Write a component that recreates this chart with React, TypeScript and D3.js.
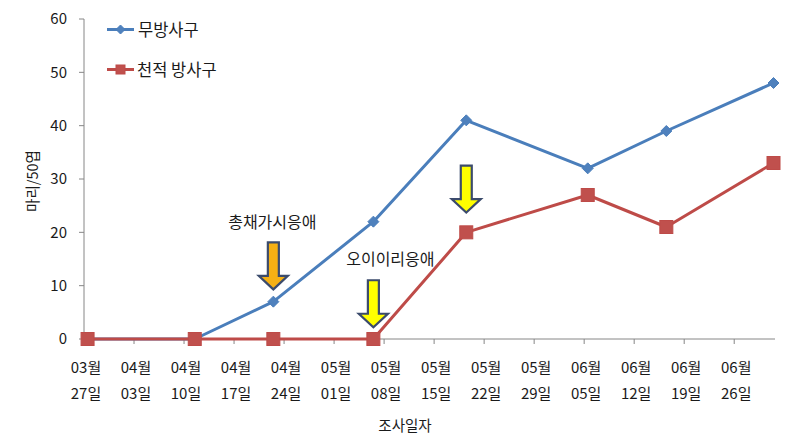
import React, { useEffect } from "react";
import * as d3 from "d3";

const surveyDates = ["2012-03-27", "2012-04-11", "2012-04-22", "2012-05-06", "2012-05-19", "2012-06-05", "2012-06-16", "2012-07-01"];
const seriesNames = ["무방사구", "천적 방사구"];
const noReleaseValues = [0, 0, 7, 22, 41, 32, 39, 48];
const releaseValues = [0, 0, 0, 0, 20, 27, 21, 33];
const tickDates = ["2012-03-27", "2012-04-03", "2012-04-10", "2012-04-17", "2012-04-24", "2012-05-01", "2012-05-08", "2012-05-15", "2012-05-22", "2012-05-29", "2012-06-05", "2012-06-12", "2012-06-19", "2012-06-26"];
const yTicks = [0, 10, 20, 30, 40, 50, 60];
const yTitle = "마리/50엽";
const xTitle = "조사일자";
const arrowDates = ["2012-04-22", "2012-05-06", "2012-05-19"];
const arrowValues = [9.3, 2.2, 23.7];
const arrowColors = ["#F5B014", "#FFFF00", "#FFFF00"];
const noteTexts = ["총채가시응애", "오이이리응애"];
const noteArrowIndex = [0, 1];

const W = 793;
const H = 440;
const FONT = "'Noto Sans CJK KR', 'Noto Sans', sans-serif";

export default function App() {
  useEffect(() => {
    document.body.style.margin = "0";
  }, []);

  const parse = d3.timeParse("%Y-%m-%d");
  const x = d3.scaleTime().domain([parse("2012-03-27")!, d3.timeHour.offset(parse("2012-07-01")!, 17)]).range([84, 775]);
  const y = d3.scaleLinear().domain([0, 60]).range([339, 19]);
  const px = (s: string) => x(d3.timeHour.offset(parse(s)!, 12));

  const fmtM = d3.timeFormat("%m월");
  const fmtD = d3.timeFormat("%d일");

  const line = d3.line<[number, number]>().x((d) => d[0]).y((d) => d[1]);
  const blueTop = noReleaseValues.map((v, i) => [px(surveyDates[i]), y(v)] as [number, number]);
  const redPts = releaseValues.map((v, i) => [px(surveyDates[i]), y(v)] as [number, number]);

  const blue = "#4A7EBB";
  const red = "#BE4B48";
  const axisColor = "#868686";
  const textColor = "#1a1a1a";

  const arrowPath = (tx: number, ty: number) => {
    const sw = 5.5, hw = 14.5, hh = 13.5, L = 47;
    return `M${tx - sw},${ty - L} L${tx + sw},${ty - L} L${tx + sw},${ty - hh} L${tx + hw},${ty - hh} L${tx},${ty} L${tx - hw},${ty - hh} L${tx - sw},${ty - hh} Z`;
  };

  const diamond = (cx: number, cy: number, r: number) => `M${cx},${cy - r} L${cx + r},${cy} L${cx},${cy + r} L${cx - r},${cy} Z`;

  return (
    <svg width={W} height={H} style={{ position: "absolute", left: 0, top: 0, background: "#fff" }} fontFamily={FONT}>
      {/* y axis */}
      <line x1={84} x2={84} y1={y(60)} y2={y(0)} stroke={axisColor} strokeWidth={1} />
      {yTicks.map((t) => (
        <g key={t}>
          <line x1={79} x2={84} y1={y(t)} y2={y(t)} stroke={axisColor} />
          <text x={67} y={y(t)} dy="0.35em" textAnchor="end" fontSize={15} fill={textColor}>{t}</text>
        </g>
      ))}
      {/* x axis */}
      <line x1={84} x2={775} y1={y(0)} y2={y(0)} stroke={axisColor} strokeWidth={1} />
      {tickDates.map((s) => {
        const d = parse(s)!;
        const tx = x(d);
        return (
          <g key={s}>
            <line x1={tx} x2={tx} y1={y(0)} y2={y(0) + 5} stroke={axisColor} />
            <text x={tx + 2} y={373} textAnchor="middle" fontSize={15} fill={textColor}>{fmtM(d)}</text>
            <text x={tx + 2} y={399} textAnchor="middle" fontSize={15} fill={textColor}>{fmtD(d)}</text>
          </g>
        );
      })}
      <text x={405} y={431} textAnchor="middle" fontSize={14.5} fill={textColor}>{xTitle}</text>
      <text transform={`translate(38,181) rotate(-90)`} textAnchor="middle" fontSize={14.5} fill={textColor}>{yTitle}</text>

      {/* series */}
      <path d={line(blueTop) || ""} fill="none" stroke={blue} strokeWidth={3} strokeLinejoin="round" />
      <path d={line(redPts) || ""} fill="none" stroke={red} strokeWidth={3} strokeLinejoin="round" />
      {blueTop.map((p, i) => (
        <path key={"b" + i} d={diamond(p[0], p[1], 5.5)} fill="#4F81BD" stroke={blue} strokeWidth={1} />
      ))}
      {redPts.map((p, i) => (
        <rect key={"r" + i} x={p[0] - 6.5} y={p[1] - 6.5} width={13} height={13} fill="#C0504D" stroke={red} strokeWidth={1} />
      ))}

      {/* arrows */}
      {arrowDates.map((s, i) => (
        <path key={"a" + i} d={arrowPath(px(s), y(arrowValues[i]))} fill={arrowColors[i]} stroke="#3B4B6C" strokeWidth={2.2} strokeLinejoin="miter" />
      ))}
      {/* notes */}
      <text x={px(arrowDates[noteArrowIndex[0]]) - 1} y={y(arrowValues[noteArrowIndex[0]]) - 61} textAnchor="middle" fontSize={16} fill={textColor}>{noteTexts[0]}</text>
      <text x={px(arrowDates[noteArrowIndex[1]]) + 17} y={y(arrowValues[noteArrowIndex[1]]) - 62} textAnchor="middle" fontSize={16} fill={textColor}>{noteTexts[1]}</text>

      {/* legend */}
      <line x1={107} x2={134} y1={29.5} y2={29.5} stroke={blue} strokeWidth={3} />
      <path d={diamond(120.5, 29.5, 4.5)} fill="#4F81BD" stroke={blue} />
      <text x={138} y={30} dy="0.35em" fontSize={16.5} fill={textColor}>{seriesNames[0]}</text>
      <line x1={107} x2={134} y1={69.5} y2={69.5} stroke={red} strokeWidth={3} />
      <rect x={116} y={65} width={9} height={9} fill="#C0504D" stroke={red} />
      <text x={137} y={70} dy="0.35em" fontSize={16.5} fill={textColor}>{seriesNames[1]}</text>
    </svg>
  );
}
